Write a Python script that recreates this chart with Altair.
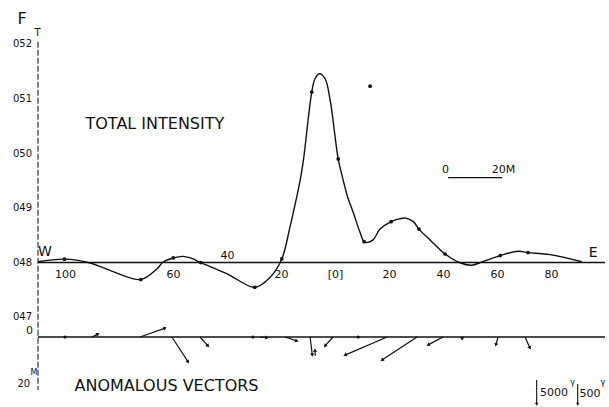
import math
import altair as alt
import pandas as pd

# ---------------- data ----------------
# Total intensity profile: distance along profile (m, west negative), F value
curve_m = [-110.2, -100.4, -90.9, -82.4, -72.1, -66.2, -63.8, -60.1, -56.5, -53.0,
           -49.9, -40.3, -29.9, -24.3, -19.9, -16.9, -14.4, -13.1, -11.9, -8.8,
           -7.6, -6.0, -3.9, -2.0, 1.0, 2.8, 4.4, 6.6, 9.1, 10.6,
           12.0, 14.0, 16.5, 20.6, 23.5, 26.0, 28.8, 30.9, 35.0, 40.6,
           46.1, 50.4, 54.7, 61.0, 67.6, 71.3, 79.4, 91.2]
curve_F = [0.48013, 0.48062, 0.47991, 0.47833, 0.47688, 0.47880, 0.48010, 0.48083, 0.48112, 0.48070,
           0.47998, 0.47798, 0.47545, 0.47725, 0.48066, 0.48644, 0.49196, 0.49506, 0.49873, 0.51128,
           0.51372, 0.51464, 0.51376, 0.50983, 0.49901, 0.49521, 0.49217, 0.48912, 0.48549, 0.48383,
           0.48370, 0.48420, 0.48613, 0.48750, 0.48800, 0.48815, 0.48750, 0.48613, 0.48415, 0.48156,
           0.47996, 0.47950, 0.48020, 0.48127, 0.48206, 0.48182, 0.48145, 0.48013]

# measured stations (dots on the curve)
dot_m = [-100.4, -72.1, -60.1, -49.9, -29.9, -19.9, -8.8, 1.0, 10.6, 20.6, 30.9, 40.6, 61.0, 71.3, 12.8]
dot_F = [0.48062, 0.47688, 0.48083, 0.47998, 0.47545, 0.48066, 0.51128, 0.49901, 0.48383, 0.48750,
         0.48613, 0.48156, 0.48127, 0.48182, 0.51235]

# F axis
f_ticks = [0.52, 0.51, 0.50, 0.49, 0.48, 0.47]
f_labels = ["052", "051", "050", "049", "048", "047"]

# distance labels along the base line
dist_m = [-100, -60, -40, -20, 0, 20, 40, 60, 80]
dist_labels = ["100", "60", "40", "20", "[0]", "20", "40", "60", "80"]
dist_above = [False, False, True, False, False, False, False, False, False]

# anomalous vectors (base and tip; v positive downward)
vec_base_m = [-90.2, -72.4, -60.6, -50.2, -28.0, -18.7, -9.4, -7.5, -0.9, 19.1, 30.2, 39.8, 46.9, 60.2, 70.2]
vec_base_v = [0, 0, 0, 0, 0, 0, 0, 7.2, 0, 0, 0, 0, 0, 0, 0]
vec_tip_m = [-88.0, -63.1, -54.6, -47.2, -25.4, -14.3, -8.6, -7.6, -3.9, 3.5, 17.2, 34.3, 46.9, 59.4, 72.0]
vec_tip_v = [-1.1, -3.4, 9.5, 3.4, 0.3, 1.5, 6.9, 5.0, 3.4, 6.9, 8.8, 3.0, 0.8, 3.0, 4.2]
vec_station_m = [-100.2, -30.6, 8.4]

# ---------------- layout ----------------
W, H = 567, 352
X_DOM = [-110.19, 99.81]
F_DOM = [0.45569, 0.520275]
V_DOM = [-112.0, 22.1]
PX_M = W / (X_DOM[1] - X_DOM[0])
PX_V = H / (V_DOM[1] - V_DOM[0])
FONT = "DejaVu Sans"
INK = "#111111"

xs = alt.Scale(domain=X_DOM, nice=False, zero=False)
fs = alt.Scale(domain=F_DOM, nice=False, zero=False)
vs = alt.Scale(domain=V_DOM, nice=False, zero=False, reverse=True)


def X(f="x"):
    return alt.X(f"{f}:Q", scale=xs, axis=None)


def YF(f="y"):
    return alt.Y(f"{f}:Q", scale=fs, axis=None)


def YV(f="y"):
    return alt.Y(f"{f}:Q", scale=vs, axis=None)


def ftext(rows, size, align="center", dy=0, yenc=YF):
    df = pd.DataFrame(rows, columns=["x", "y", "t"])
    return alt.Chart(df).mark_text(font=FONT, fontSize=size, align=align, baseline="middle",
                                   color=INK, dy=dy).encode(x=X(), y=yenc(), text="t:N")


curve_df = pd.DataFrame({"x": curve_m, "y": curve_F})
dots_df = pd.DataFrame({"x": dot_m, "y": dot_F})

base_line = alt.Chart(pd.DataFrame({"x": [X_DOM[0]], "x2": [X_DOM[1]], "y": [0.48]})).mark_rule(
    color=INK, strokeWidth=1.6).encode(x=X(), x2="x2:Q", y=YF())
axis_line = alt.Chart(pd.DataFrame({"x": [X_DOM[0]], "y": [0.5205], "y2": [0.45661]})).mark_rule(
    color=INK, strokeWidth=1, strokeDash=[6, 2]).encode(x=X(), y=YF(), y2="y2:Q")
curve = alt.Chart(curve_df).mark_line(color=INK, strokeWidth=1.4, interpolate="catmull-rom").encode(
    x=X(), y=YF())
dots = alt.Chart(dots_df).mark_point(filled=True, color=INK, size=14, opacity=1).encode(x=X(), y=YF())

f_lab = ftext([(-112.4, t, l) for t, l in zip(f_ticks, f_labels)], 10, align="right")
dist_below = ftext([(m, 0.48, l) for m, l, a in zip(dist_m, dist_labels, dist_above) if not a], 11, dy=12)
dist_abv = ftext([(m, 0.48, l) for m, l, a in zip(dist_m, dist_labels, dist_above) if a], 11, dy=-7)
big_F = ftext([(-116.1, 0.52468, "F")], 16)
small_T = ftext([(-110.4, 0.52202, "T")], 10)
we = ftext([(-107.6, 0.4820, "W"), (95.4, 0.48174, "E")], 14)
title1 = ftext([(-66.9, 0.50541, "TOTAL INTENSITY")], 16)
scale_txt = ftext([(40.7, 0.49706, "0"), (62.2, 0.49706, "20M")], 11)
scale_bar = alt.Chart(pd.DataFrame({"x": [41.7], "x2": [61.7], "y": [0.49556]})).mark_rule(
    color=INK, strokeWidth=1.3).encode(x=X(), x2="x2:Q", y=YF())

layer_f = alt.layer(axis_line, base_line, curve, dots, f_lab, dist_below, dist_abv, big_F, small_T,
                    we, title1, scale_txt, scale_bar)

# ----- vectors -----
vec_df = pd.DataFrame({"x": vec_base_m, "y": vec_base_v, "x2": vec_tip_m, "y2": vec_tip_v})
vec_df["ang"] = [
    (math.degrees(math.atan2((tm - bm) * PX_M, -(tv - bv) * PX_V)) + 360) % 360
    for bm, bv, tm, tv in zip(vec_base_m, vec_base_v, vec_tip_m, vec_tip_v)
]
vec_line = alt.Chart(pd.DataFrame({"x": [X_DOM[0]], "x2": [X_DOM[1]], "y": [0]})).mark_rule(
    color=INK, strokeWidth=1.4).encode(x=X(), x2="x2:Q", y=YV())
vecs = alt.Chart(vec_df).mark_rule(color=INK, strokeWidth=1.2).encode(x=X(), y=YV(), x2="x2:Q", y2="y2:Q")
heads = alt.Chart(vec_df).mark_point(shape="triangle-up", filled=True, color=INK, size=16, opacity=1,
                                     strokeWidth=0).encode(
    x=X("x2"), y=YV("y2"), angle=alt.Angle("ang:Q", scale=None))
stations = alt.Chart(pd.DataFrame({"x": vec_station_m, "y": [0] * len(vec_station_m)})).mark_point(
    filled=True, color=INK, size=10, opacity=1).encode(x=X(), y=YV())

v_lab0 = ftext([(-112.0, -2.1, "0")], 11, align="right", yenc=YV)
v_lab20 = ftext([(-113.1, 17.9, "20")], 10, align="right", yenc=YV)
v_labM = ftext([(-111.7, 13.7, "M")], 8, yenc=YV)
title2 = ftext([(-62.6, 18.7, "ANOMALOUS VECTORS")], 16, yenc=YV)

bars_df = pd.DataFrame({"x": [74.5, 89.7], "y": [16.4, 17.9], "y2": [25.6, 25.6]})
bars = alt.Chart(bars_df).mark_rule(color=INK, strokeWidth=1.1).encode(x=X(), y=YV(), y2="y2:Q")
bar_heads = alt.Chart(bars_df).mark_point(shape="triangle-down", filled=True, color=INK, size=12,
                                          opacity=1, strokeWidth=0).encode(x=X(), y=YV("y2"))
bar_txt = ftext([(75.7, 21.3, "5000"), (90.4, 21.7, "500")], 11, align="left", yenc=YV)
gam_txt = ftext([(87.8, 17.6, "γ"), (99.0, 17.6, "γ")], 8, yenc=YV)

layer_v = alt.layer(vec_line, vecs, heads, stations, v_lab0, v_lab20, v_labM, title2,
                    bars, bar_heads, bar_txt, gam_txt)

chart = alt.layer(layer_f, layer_v).resolve_scale(y="independent").properties(
    width=W, height=H,
    padding={"left": 38, "top": 43, "right": 4, "bottom": 12},
    autosize=alt.AutoSizeParams(type="none"),
    background="white",
).configure_view(stroke=None)

chart.save("out.html", embed_options={"renderer": "svg", "actions": False})
